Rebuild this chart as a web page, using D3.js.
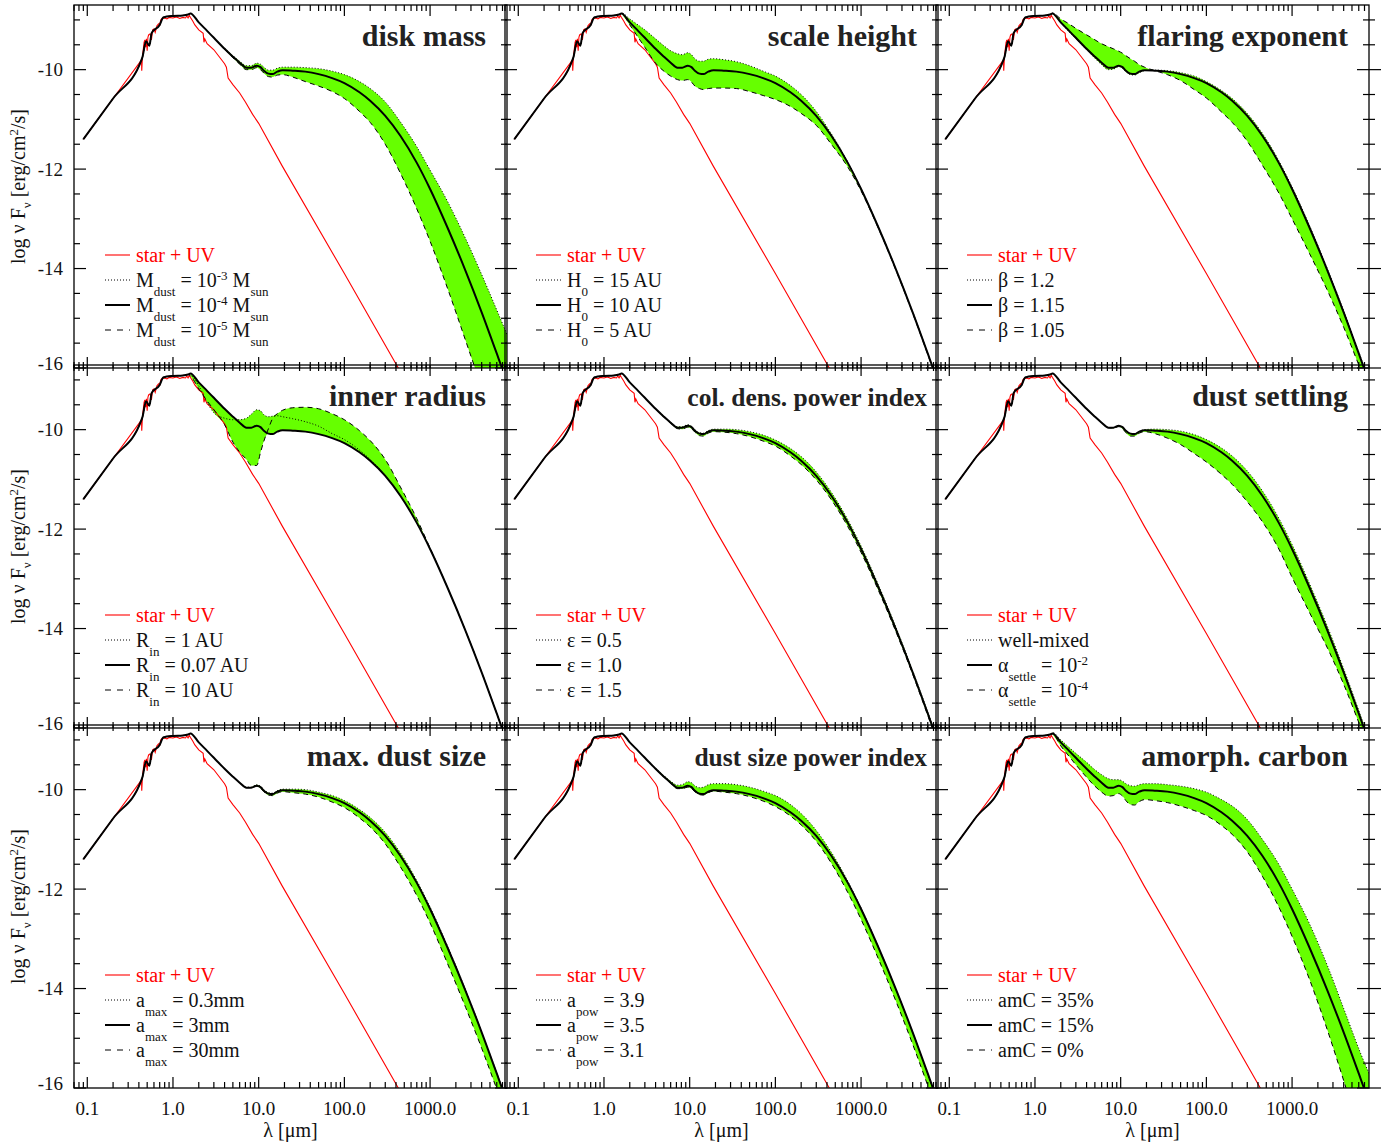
<!DOCTYPE html>
<html><head><meta charset="utf-8">
<script src="https://cdn.jsdelivr.net/npm/d3@7"></script>
<style>
body{margin:0;background:#fff}
text{font-family:"Liberation Serif","Times New Roman",serif;white-space:pre}
</style>
</head><body>
<svg id="chart" width="1386" height="1144"></svg>
<script>
// ---------------- DATA ----------------
// photosphere part of model SED (black), wavelength in micron, log nuFnu
const photLam  = [0.09, 0.2, 0.43, 0.44, 0.485, 0.53, 0.565, 0.7, 0.77, 1.0, 1.3, 1.5];
const photFlux = [-11.4, -10.58, -9.8, -9.75, -9.43, -9.52, -9.26, -9.1, -8.95, -8.92, -8.91, -8.89];

// star + UV (red)
const starLam  = [0.09, 0.2, 0.42, 0.43, 0.432, 0.44, 0.46, 0.47, 0.48, 0.49, 0.5, 0.51, 0.52, 0.54, 0.56, 0.58, 0.6, 0.62, 0.65, 0.68, 0.7, 0.72, 0.75, 0.8, 0.85, 0.9, 1.0, 1.1, 1.2, 1.3, 1.4, 1.45, 1.5, 1.55, 1.6, 1.7, 1.8, 2.0, 2.25, 2.3, 2.35, 2.5, 3.0, 3.5, 4.0, 4.2, 4.4, 5, 6, 7, 8.5, 10, 19, 100, 600];
const starFlux = [-11.4, -10.58, -9.83, -9.8, -10.02, -9.75, -9.45, -9.4, -9.55, -9.38, -9.62, -9.35, -9.3, -9.28, -9.4, -9.2, -9.18, -9.25, -9.12, -9.08, -9.1, -9.0, -8.97, -8.96, -8.98, -8.95, -8.96, -8.94, -8.97, -8.95, -8.96, -8.92, -8.96, -8.91, -8.95, -9.02, -9.1, -9.2, -9.27, -9.45, -9.38, -9.48, -9.6, -9.75, -9.88, -9.95, -10.17, -10.3, -10.47, -10.65, -10.9, -11.08, -11.95, -14.1, -16.45];

// disk-part wavelength grid
const lam = [1.6, 2, 2.5, 3, 4, 5, 6, 7.2, 8.2, 9.5, 10.5, 11.5, 13, 14.5, 16.5, 19, 25, 35, 50, 72, 100, 150, 200, 300, 450, 700, 1000, 1600, 2600, 4000, 6300, 10000];
// reference model (black solid)
const refFlux = [-8.87, -9.05, -9.22, -9.36, -9.58, -9.74, -9.86, -9.96, -9.96, -9.92, -9.95, -10.02, -10.08, -10.09, -10.04, -10.01, -10.02, -10.04, -10.09, -10.17, -10.27, -10.455, -10.625, -10.93, -11.33, -11.875, -12.4, -13.18, -14.05, -14.88, -15.81, -16.78];

// dotted (first legend entry) and dashed (third legend entry) models per panel
const diskMassDot  = [-8.87, -9.05, -9.22, -9.36, -9.57, -9.72, -9.83, -9.92, -9.92, -9.87, -9.89, -9.95, -10.01, -10.01, -9.97, -9.95, -9.95, -9.96, -9.98, -10.03, -10.1, -10.24, -10.38, -10.65, -11.05, -11.55, -12.02, -12.65, -13.4, -14.12, -14.92, -15.75];
const diskMassDash = [-8.87, -9.05, -9.22, -9.36, -9.59, -9.76, -9.89, -10.0, -10.0, -9.96, -10.0, -10.07, -10.14, -10.15, -10.11, -10.1, -10.15, -10.24, -10.33, -10.44, -10.58, -10.84, -11.06, -11.5, -12.08, -12.8, -13.45, -14.4, -15.45, -16.4, -17.45, -18.5];

const scaleHDot  = [-8.86, -8.98, -9.1, -9.2, -9.38, -9.52, -9.62, -9.68, -9.7, -9.66, -9.7, -9.78, -9.83, -9.83, -9.79, -9.78, -9.8, -9.84, -9.92, -10.03, -10.13, -10.32, -10.5, -10.84, -11.29, -11.86, -12.39, -13.17, -14.04, -14.87, -15.8, -16.77];
const scaleHDash = [-8.87, -9.1, -9.35, -9.55, -9.87, -10.03, -10.13, -10.2, -10.22, -10.2, -10.25, -10.33, -10.38, -10.4, -10.38, -10.37, -10.37, -10.38, -10.44, -10.52, -10.6, -10.74, -10.88, -11.12, -11.5, -11.96, -12.44, -13.2, -14.07, -14.9, -15.83, -16.8];

const flaringDot  = [-8.87, -9.06, -9.24, -9.38, -9.6, -9.77, -9.9, -10.0, -9.99, -9.94, -9.97, -10.04, -10.1, -10.11, -10.06, -10.02, -10.01, -10.02, -10.06, -10.13, -10.24, -10.42, -10.58, -10.88, -11.28, -11.83, -12.36, -13.14, -14.02, -14.85, -15.78, -16.75];
const flaringDash = [-8.86, -8.98, -9.08, -9.17, -9.3, -9.4, -9.48, -9.54, -9.58, -9.63, -9.67, -9.72, -9.78, -9.83, -9.9, -9.95, -10.02, -10.1, -10.22, -10.4, -10.57, -10.85, -11.06, -11.44, -11.92, -12.48, -13.0, -13.7, -14.45, -15.18, -16.03, -16.9];

const innerRDot  = [-8.9, -9.12, -9.45, -9.66, -9.77, -9.8, -9.8, -9.77, -9.69, -9.6, -9.62, -9.7, -9.74, -9.73, -9.72, -9.74, -9.78, -9.84, -9.93, -10.08, -10.2, -10.41, -10.6, -10.92, -11.33, -11.875, -12.4, -13.18, -14.05, -14.88, -15.81, -16.78];
const innerRDash = [-8.92, -9.18, -9.42, -9.6, -9.9, -10.25, -10.45, -10.6, -10.72, -10.72, -10.46, -10.23, -9.98, -9.78, -9.68, -9.61, -9.56, -9.55, -9.58, -9.68, -9.8, -10.02, -10.22, -10.6, -11.15, -11.79, -12.38, -13.18, -14.05, -14.88, -15.81, -16.78];

const colDensDot  = [-8.87, -9.05, -9.22, -9.36, -9.58, -9.73, -9.85, -9.94, -9.94, -9.9, -9.93, -10.0, -10.06, -10.07, -10.02, -9.99, -9.99, -10.0, -10.04, -10.11, -10.21, -10.38, -10.54, -10.85, -11.26, -11.81, -12.34, -13.13, -14.01, -14.85, -15.78, -16.75];
const colDensDash = [-8.87, -9.05, -9.22, -9.36, -9.58, -9.75, -9.87, -9.98, -9.99, -9.95, -9.98, -10.05, -10.12, -10.13, -10.07, -10.04, -10.05, -10.08, -10.14, -10.23, -10.33, -10.53, -10.7, -11.01, -11.41, -11.95, -12.47, -13.24, -14.1, -14.92, -15.85, -16.82];

const settleDot  = [-8.87, -9.05, -9.22, -9.36, -9.58, -9.74, -9.86, -9.96, -9.96, -9.92, -9.95, -10.02, -10.08, -10.09, -10.04, -10.0, -9.99, -10.0, -10.03, -10.1, -10.2, -10.37, -10.53, -10.83, -11.23, -11.78, -12.31, -13.1, -13.97, -14.81, -15.75, -16.72];
const settleDash = [-8.87, -9.05, -9.22, -9.36, -9.58, -9.74, -9.86, -9.96, -9.97, -9.94, -9.98, -10.06, -10.13, -10.13, -10.07, -10.04, -10.08, -10.17, -10.3, -10.48, -10.65, -10.9, -11.1, -11.45, -11.85, -12.4, -12.97, -13.68, -14.4, -15.12, -15.98, -16.85];

const amaxDot  = [-8.87, -9.05, -9.22, -9.36, -9.58, -9.74, -9.86, -9.95, -9.95, -9.9, -9.93, -10.0, -10.06, -10.07, -10.02, -9.99, -9.99, -10.0, -10.05, -10.12, -10.22, -10.4, -10.56, -10.86, -11.27, -11.83, -12.36, -13.15, -14.03, -14.87, -15.8, -16.76];
const amaxDash = [-8.87, -9.05, -9.22, -9.36, -9.58, -9.74, -9.86, -9.96, -9.96, -9.93, -9.97, -10.04, -10.11, -10.12, -10.07, -10.04, -10.06, -10.09, -10.15, -10.25, -10.36, -10.57, -10.75, -11.09, -11.55, -12.13, -12.68, -13.5, -14.38, -15.2, -16.12, -17.05];

const apowDot  = [-8.87, -9.05, -9.22, -9.36, -9.57, -9.72, -9.83, -9.91, -9.9, -9.84, -9.86, -9.92, -9.96, -9.95, -9.9, -9.88, -9.88, -9.9, -9.95, -10.03, -10.12, -10.3, -10.48, -10.82, -11.26, -11.84, -12.38, -13.17, -14.05, -14.88, -15.83, -16.8];
const apowDash = [-8.87, -9.05, -9.22, -9.36, -9.58, -9.75, -9.87, -9.98, -9.98, -9.95, -9.98, -10.04, -10.1, -10.11, -10.06, -10.03, -10.05, -10.08, -10.14, -10.23, -10.34, -10.53, -10.71, -11.04, -11.48, -12.07, -12.61, -13.41, -14.29, -15.12, -16.05, -17.0];

const amcDot  = [-8.85, -9.0, -9.15, -9.27, -9.45, -9.6, -9.7, -9.78, -9.8, -9.8, -9.83, -9.88, -9.92, -9.93, -9.9, -9.88, -9.88, -9.9, -9.93, -9.98, -10.05, -10.2, -10.33, -10.6, -11.0, -11.5, -12.0, -12.7, -13.55, -14.4, -15.3, -16.1];
const amcDash = [-8.88, -9.12, -9.33, -9.5, -9.75, -9.93, -10.05, -10.13, -10.12, -10.08, -10.13, -10.22, -10.3, -10.31, -10.24, -10.2, -10.22, -10.26, -10.33, -10.42, -10.52, -10.72, -10.9, -11.25, -11.74, -12.36, -12.95, -13.82, -14.85, -15.85, -16.95, -18.0];

const panelTitles = ["disk mass", "scale height", "flaring exponent", "inner radius", "col. dens. power index", "dust settling", "max. dust size", "dust size power index", "amorph. carbon"];
const legendStar = "star + UV";
const legendLabels = [
  ["M_{dust} = 10^{-3} M_{sun}", "M_{dust} = 10^{-4} M_{sun}", "M_{dust} = 10^{-5} M_{sun}"],
  ["H_{0} = 15 AU", "H_{0} = 10 AU", "H_{0} = 5 AU"],
  ["β = 1.2", "β = 1.15", "β = 1.05"],
  ["R_{in} = 1 AU", "R_{in} = 0.07 AU", "R_{in} = 10 AU"],
  ["ε = 0.5", "ε = 1.0", "ε = 1.5"],
  ["well-mixed", "α_{settle} = 10^{-2}", "α_{settle} = 10^{-4}"],
  ["a_{max} = 0.3mm", "a_{max} = 3mm", "a_{max} = 30mm"],
  ["a_{pow} = 3.9", "a_{pow} = 3.5", "a_{pow} = 3.1"],
  ["amC = 35%", "amC = 15%", "amC = 0%"]
];
const dottedSeries = [diskMassDot, scaleHDot, flaringDot, innerRDot, colDensDot, settleDot, amaxDot, apowDot, amcDot];
const dashedSeries = [diskMassDash, scaleHDash, flaringDash, innerRDash, colDensDash, settleDash, amaxDash, apowDash, amcDash];

const xTickValues = [0.1, 1, 10, 100, 1000];
const xTickLabels = ["0.1", "1.0", "10.0", "100.0", "1000.0"];
const yTickValues = [-10, -12, -14, -16];
const yTickLabels = ["-10", "-12", "-14", "-16"];
const xAxisTitle = "λ [μm]";
const yAxisTitle = "log ν F_{ν} [erg/cm^{2}/s]";

// ---------------- DRAW ----------------
const svg = d3.select("#chart");
const colX = [74, 505, 936], rowY = [5, 365, 725];
const PW = 433, PH = 363;
const GREEN = "#66ff00";

function rich(sel, str, size, small, subDy, supDy) {
  const parts = str.split(/(_\{[^}]*\}|\^\{[^}]*\})/).filter(s => s.length);
  let prev = 0;
  parts.forEach(s => {
    let t = s, fs = size, d = 0;
    if (s.startsWith("_{")) { t = s.slice(2, -1); fs = small; d = subDy; }
    else if (s.startsWith("^{")) { t = s.slice(2, -1); fs = small; d = supDy; }
    sel.append("tspan").attr("dy", d - prev).attr("font-size", fs).text(t);
    prev = d;
  });
}

const xMinor = [];
[0.01, 0.1, 1, 10, 100, 1000].forEach(dec => {
  for (let k = 1; k <= 9; k++) { const v = k * dec; if (v >= 0.07 && v <= 7900) xMinor.push(v); }
});
const yMinor = d3.range(-16, -8.7, 0.5);

panelTitles.forEach((title, i) => {
  const c = i % 3, r = Math.floor(i / 3);
  const x0 = colX[c], y0 = rowY[r];
  const x = d3.scaleLog().domain([0.07, 7900]).range([x0, x0 + PW]);
  const y = d3.scaleLinear().domain([-16, -8.7]).range([y0 + PH, y0]);
  const g = svg.append("g");
  const cid = "clip" + i;
  svg.append("clipPath").attr("id", cid).append("rect")
    .attr("x", x0).attr("y", y0).attr("width", PW).attr("height", PH);
  const plot = g.append("g").attr("clip-path", `url(#${cid})`);

  const dot = dottedSeries[i], dash = dashedSeries[i];
  const env = lam.map((l, k) => ({
    l, lo: Math.min(refFlux[k], dot[k], dash[k]), hi: Math.max(refFlux[k], dot[k], dash[k])
  }));
  plot.append("path").datum(env)
    .attr("d", d3.area().curve(d3.curveMonotoneX).x(d => x(d.l)).y0(d => y(d.lo)).y1(d => y(d.hi)))
    .attr("fill", GREEN).attr("stroke", "none");

  const fullLam = photLam.concat(lam);
  const series = arr => fullLam.map((l, k) => [l, k < photLam.length ? photFlux[k] : arr[k - photLam.length]]);
  const line = d3.line().curve(d3.curveMonotoneX).x(d => x(d[0])).y(d => y(d[1]));

  plot.append("path").datum(starLam.map((l, k) => [l, starFlux[k]]))
    .attr("d", d3.line().x(d => x(d[0])).y(d => y(d[1])))
    .attr("fill", "none").attr("stroke", "#ff0000").attr("stroke-width", 1.1);
  plot.append("path").datum(series(dot)).attr("d", line)
    .attr("fill", "none").attr("stroke", "#000").attr("stroke-width", 1).attr("stroke-dasharray", "1,2");
  plot.append("path").datum(series(dash)).attr("d", line)
    .attr("fill", "none").attr("stroke", "#000").attr("stroke-width", 1).attr("stroke-dasharray", "5,4");
  plot.append("path").datum(series(refFlux)).attr("d", line)
    .attr("fill", "none").attr("stroke", "#000").attr("stroke-width", 2);

  g.append("rect").attr("x", x0).attr("y", y0).attr("width", PW).attr("height", PH)
    .attr("fill", "none").attr("stroke", "#000").attr("stroke-width", 1.3);

  const tk = g.append("g").attr("stroke", "#000").attr("stroke-width", 1.2);
  xMinor.forEach(v => {
    const major = xTickValues.includes(v);
    const L = major ? 11 : 6, xx = x(v);
    tk.append("line").attr("x1", xx).attr("x2", xx).attr("y1", y0 + PH).attr("y2", y0 + PH - L);
    tk.append("line").attr("x1", xx).attr("x2", xx).attr("y1", y0).attr("y2", y0 + L);
  });
  yMinor.forEach(v => {
    const major = yTickValues.includes(v);
    const L = major ? 12 : 6, yy = y(v);
    tk.append("line").attr("x1", x0).attr("x2", x0 + L).attr("y1", yy).attr("y2", yy);
    tk.append("line").attr("x1", x0 + PW).attr("x2", x0 + PW - L).attr("y1", yy).attr("y2", yy);
    if (c === 2) tk.append("line").attr("x1", x0 + PW).attr("x2", x0 + PW + L).attr("y1", yy).attr("y2", yy);
  });

  if (c === 0) {
    yTickValues.forEach((v, k) => {
      g.append("text").attr("x", x0 - 11).attr("y", y(v) + (v === -16 ? -5 : 0)).attr("dy", "0.35em")
        .attr("text-anchor", "end").attr("font-size", 19).attr("fill", "#111").text(yTickLabels[k]);
    });
    const yl = g.append("text").attr("transform", `translate(25,${y0 + PH / 2}) rotate(-90)`)
      .attr("text-anchor", "middle").attr("fill", "#111");
    rich(yl, yAxisTitle, 20, 13, 6, -7);
  }
  if (r === 2) {
    xTickValues.forEach((v, k) => {
      g.append("text").attr("x", x(v)).attr("y", y0 + PH + 27).attr("text-anchor", "middle")
        .attr("font-size", 19).attr("fill", "#111").text(xTickLabels[k]);
    });
    g.append("text").attr("x", x0 + PW / 2).attr("y", y0 + PH + 49).attr("text-anchor", "middle")
      .attr("font-size", 20).attr("fill", "#111").text(xAxisTitle);
  }

  const small = title.length > 18;
  g.append("text").attr("x", x0 + PW - (small ? 11 : 21)).attr("y", y0 + 41)
    .attr("text-anchor", "end").attr("font-weight", "bold").attr("font-size", small ? 25.5 : 30)
    .attr("fill", "#222").text(title);

  const lx0 = x0 + 31, lx1 = x0 + 56, tx = x0 + 62, ly = y0 + 250;
  g.append("line").attr("x1", lx0).attr("x2", lx1).attr("y1", ly).attr("y2", ly)
    .attr("stroke", "#ff0000").attr("stroke-width", 1.1);
  g.append("text").attr("x", tx).attr("y", ly + 7).attr("font-size", 20).attr("fill", "#ff0000").text(legendStar);
  const styles = [{w: 1, d: "1,2"}, {w: 2, d: null}, {w: 1, d: "6,6"}];
  legendLabels[i].forEach((lab, k) => {
    const yy = ly + 25 * (k + 1);
    const ln = g.append("line").attr("x1", lx0).attr("x2", lx1).attr("y1", yy).attr("y2", yy)
      .attr("stroke", "#000").attr("stroke-width", styles[k].w);
    if (styles[k].d) ln.attr("stroke-dasharray", styles[k].d);
    const t = g.append("text").attr("x", tx).attr("y", yy + 7).attr("fill", "#111");
    rich(t, lab, 20, 13, 9, -7);
  });
});
</script>
</body></html>
